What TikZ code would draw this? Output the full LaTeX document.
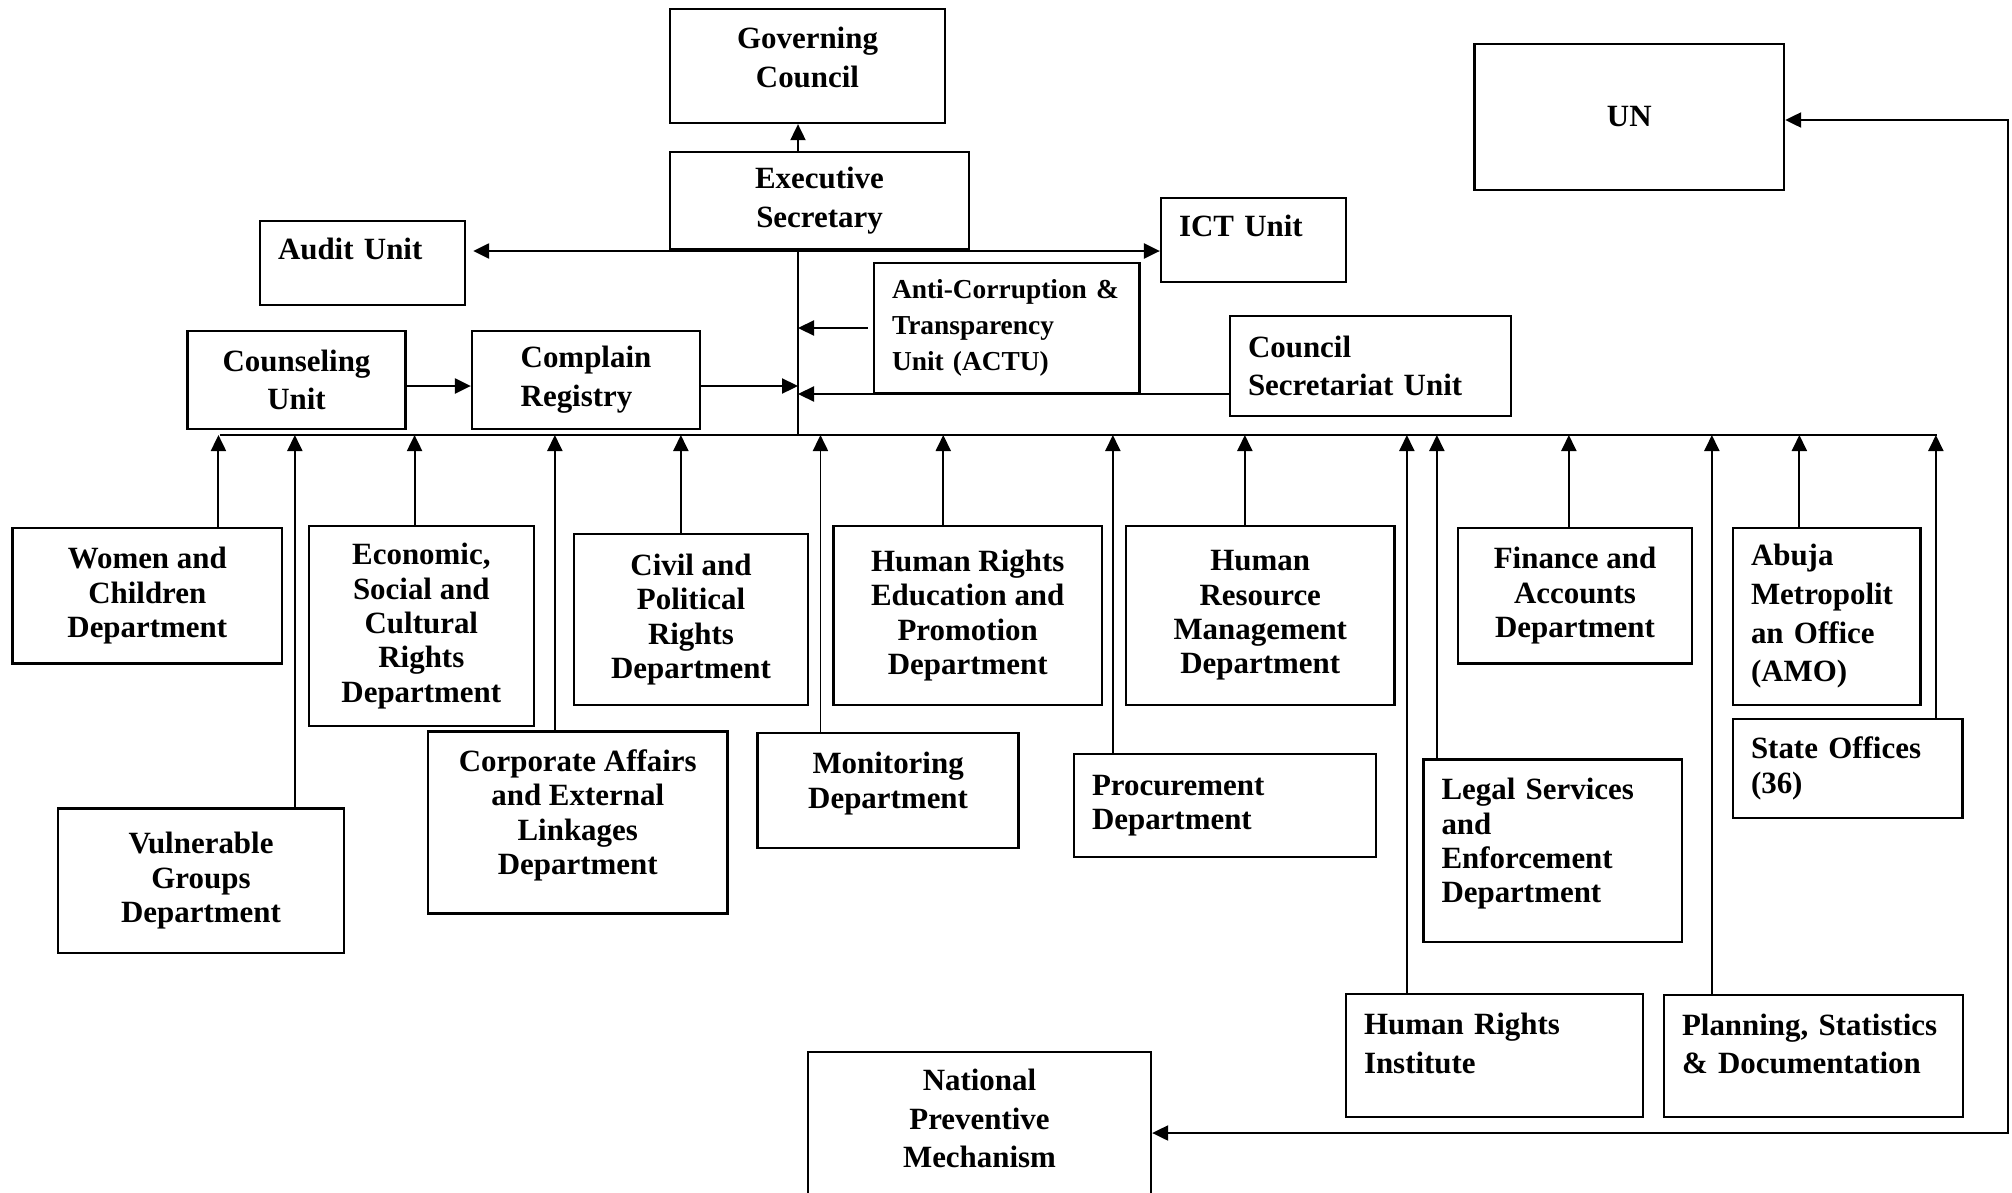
\documentclass[tikz,border=0pt]{standalone}
\usepackage{fontspec}
\setmainfont{Liberation Serif}
\usepackage{tikz}
\usetikzlibrary{arrows.meta, positioning}

\begin{document}
\begin{tikzpicture}[
    box/.style={draw, line width=0.65pt, font=\bfseries\fontsize{8.8}{9.8}\selectfont, align=center, inner sep=0pt},
    loose/.style={font=\bfseries\fontsize{8.8}{11}\selectfont},
    lbox/.style={box, align=left, inner xsep=0.18cm, text width=#1},
    arrow/.style={-{Triangle[length=1.6mm, width=1.5mm]}, line width=0.55pt},
    link/.style={arrow, line width=0.65pt},
    bus/.style={line width=0.8pt}
]
    \path[fill=white] (0,0) rectangle (20.12,-11.92);
    \useasboundingbox (0,0) rectangle (20.12,-11.92);

    % top of the chart
    \node[box, loose, minimum width=2.75cm, minimum height=1.14cm] (gc) at (8.075,-0.66) {Governing\\Council\\[-6pt]\mbox{}};
    \node[box, loose, minimum width=2.99cm, minimum height=0.97cm] (es) at (8.195,-2.005) {Executive\\Secretary};
    \node[lbox=1.69cm, loose, minimum height=0.84cm] (audit) at (3.625,-2.63) {Audit Unit\\[-3pt]\mbox{}};
    \node[lbox=1.49cm, loose, minimum height=0.84cm] (ict) at (12.535,-2.40) {ICT Unit\\[-3pt]\mbox{}};
    \node[lbox=2.295cm, font=\bfseries\fontsize{7.8}{10.2}\selectfont, minimum height=1.30cm] (actu) at (10.0675,-3.28) {Anti-Corruption \&\\Transparency\\Unit (ACTU)};
    \node[lbox=2.45cm, loose, minimum height=1.00cm] (cs) at (13.705,-3.66) {Council\\Secretariat Unit};
    \node[box, loose, minimum width=2.18cm, minimum height=0.98cm] (cu) at (2.9655,-3.80) {Counseling\\Unit};
    \node[box, loose, align=left, minimum width=2.28cm, minimum height=0.98cm] (cr) at (5.86,-3.80) {Complain\\Registry};
    \node[box, loose, minimum width=3.095cm, minimum height=1.46cm] (un) at (16.2925,-1.17) {UN};

    % departments and offices
    \node[box, minimum width=2.694cm, minimum height=1.354cm] (women) at (1.473,-5.957) {Women and\\Children\\Department};
    \node[box, minimum width=2.86cm, minimum height=1.444cm] (vul) at (2.01,-8.808) {Vulnerable\\Groups\\Department};
    \node[box, minimum width=2.253cm, minimum height=2.00cm] (econ) at (4.2135,-6.26) {Economic,\\Social and\\Cultural\\Rights\\Department};
    \node[box, minimum width=2.995cm, minimum height=1.82cm] (corp) at (5.7775,-8.225) {Corporate Affairs\\and External\\Linkages\\Department\\[-4pt]\mbox{}};
    \node[box, minimum width=2.34cm, minimum height=1.708cm] (civil) at (6.91,-6.194) {Civil and\\Political\\Rights\\Department};
    \node[box, minimum width=2.61cm, minimum height=1.15cm] (monit) at (8.881,-7.905) {Monitoring\\Department\\[-4pt]\mbox{}};
    \node[box, minimum width=2.686cm, minimum height=1.788cm] (hredu) at (9.677,-6.154) {Human Rights\\Education and\\Promotion\\Department};
    \node[lbox=2.66cm, minimum height=1.027cm] (proc) at (12.25,-8.054) {Procurement\\Department};
    \node[box, minimum width=2.685cm, minimum height=1.788cm] (hrmgmt) at (12.6025,-6.154) {Human\\Resource\\Management\\Department};
    \node[lbox=2.61cm, loose, minimum height=1.23cm] (hri) at (14.945,-10.555) {Human Rights\\Institute\\[-4pt]\mbox{}};
    \node[lbox=2.225cm, minimum height=1.825cm] (legal) at (15.5275,-8.5075) {Legal Services\\and\\Enforcement\\Department\\[-4pt]\mbox{}};
    \node[box, minimum width=2.34cm, minimum height=1.354cm] (fin) at (15.75,-5.957) {Finance and\\Accounts\\Department};
    \node[lbox=2.63cm, loose, minimum height=1.22cm] (plan) at (18.135,-10.56) {Planning, Statistics\\\& Documentation\\[-4pt]\mbox{}};
    \node[lbox=1.516cm, loose, minimum height=1.768cm] (abuja) at (18.268,-6.164) {Abuja\\Metropolit\\an Office\\(AMO)};
    \node[lbox=1.935cm, minimum height=0.99cm] (state) at (18.4775,-7.685) {State Offices\\(36)};
    \node[box, loose, anchor=north, minimum width=3.43cm, minimum height=1.5cm] (npm) at (9.795,-10.51) {National\\Preventive\\Mechanism\\[-6pt]\mbox{}};

    % spine and bus
    \coordinate (spine) at (7.98,-2.51);
    \coordinate (busL) at (2.196,-4.35);
    \coordinate (busR) at (19.37,-4.35);
    \draw[arrow] (es.north -| spine) -- (gc.south -| spine);
    \draw[line width=0.5pt] (es.south -| spine) -- (spine |- busL);
    \draw[link] (spine) -- ([xshift=0.07cm]spine -| audit.east);
    \draw[link] (spine) -- (spine -| ict.west);
    \draw[link] ([xshift=-0.05cm]actu.west) -- (actu.west -| spine);
    \draw[link] ([yshift=-0.28cm]cs.west) -- ([yshift=-0.28cm]cs.west -| spine);
    \draw[link] ([yshift=-0.06cm]cr.east) -- ([yshift=-0.06cm]cr.east -| spine);
    \draw[link] ([yshift=-0.06cm]cu.east) -- ([yshift=-0.06cm]cr.west);
    \draw[bus] (busL) -- (busR);

    % arrows up to the bus
    \foreach \n/\dx in {women/2.07, vul/2.38, econ/1.07, corp/1.28, civil/1.08, monit/0.64, hredu/1.11, proc/0.40, hrmgmt/1.20, hri/0.62, legal/0.145, fin/1.12, plan/0.49, abuja/0.675, state/2.04}
        \draw[arrow] ([xshift=\dx cm]\n.north west) coordinate (s) -- (s |- busL);

    % UN and NPM loop
    \coordinate (untop) at (20.08,-1.20);
    \coordinate (npmbot) at (20.08,-11.33);
    \draw[line width=0.6pt, {Triangle[length=1.6mm, width=1.5mm]}-{Triangle[length=1.6mm, width=1.5mm]}] (untop -| un.east) -- (untop) -- (npmbot) -- (npmbot -| npm.east);
\end{tikzpicture}
\end{document}
